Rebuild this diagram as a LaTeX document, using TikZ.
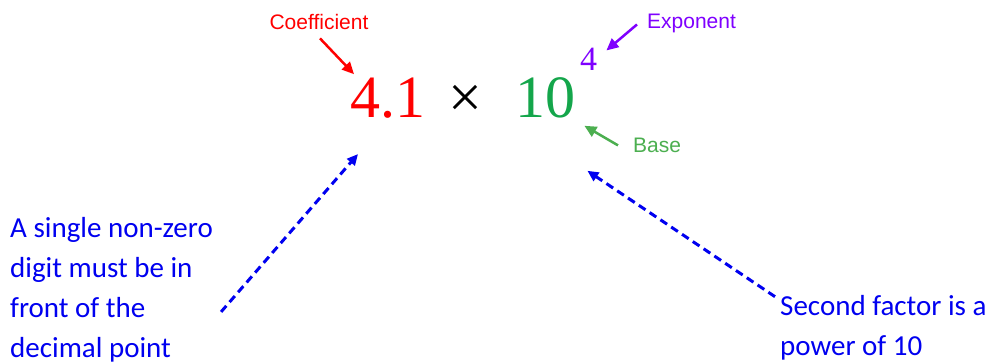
\documentclass[tikz,border=0pt]{standalone}
\usepackage{fontspec}
\setmainfont{Liberation Serif}
\newfontfamily\lblfont{Liberation Sans}
\newfontfamily\notefont{Carlito}
\usetikzlibrary{arrows.meta}
\definecolor{coefred}{HTML}{FF0000}
\definecolor{basegreen}{HTML}{14A64B}
\definecolor{lblgreen}{HTML}{4CAF50}
\definecolor{exppurple}{HTML}{7F00FF}
\definecolor{noteblue}{HTML}{0000F0}
\begin{document}
\begin{tikzpicture}[x=1pt, y=-1pt, >={Triangle[length=12pt,width=11pt]}]
      \tikzset{num/.style={inner sep=0, font=\fontsize{60}{60}\selectfont},
               lbl/.style={inner sep=0, font=\lblfont\fontsize{21}{21}\selectfont},
               note/.style={inner sep=0, align=left, text=noteblue, font=\notefont\fontsize{29}{40}\selectfont},
               pointer/.style={->, line width=2.5pt},
               hint/.style={->, noteblue, line width=3pt, dash pattern=on 8pt off 5pt, >={Triangle[length=11pt,width=10pt]}}}
      \fill[white] (0,0) rectangle (987,362);
      \useasboundingbox (0,0) rectangle (987,362);
      % the number
      \node[num, text=coefred, anchor=base west] (coef) at (350,117) {4.1};
      \node[num, anchor=base] (times) at (465,117) {×};
      \node[num, text=basegreen, anchor=base west] (ten) at (515,117) {10};
      \node[num, text=exppurple, anchor=base west, font=\fontsize{34}{34}\selectfont] (expo) at (580,70) {4};
      % labels
      \node[lbl, text=coefred, anchor=base] (coeflbl) at (319,29) {Coefficient};
      \node[lbl, text=exppurple, anchor=base west] (expolbl) at (647,28) {Exponent};
      \node[lbl, text=lblgreen, anchor=base west] (baselbl) at (633,152) {Base};
      \draw[pointer, coefred] ([shift={(1,9)}]coeflbl.south) -- ([shift={(4,-3)}]coef.north west);
      \draw[pointer, exppurple] ([shift={(-10,1.5)}]expolbl.west) -- ([shift={(9,3)}]expo.north east);
      \draw[pointer, lblgreen] ([shift={(-15,0.5)}]baselbl.west) -- ([shift={(9,8)}]ten.south east);
      % notes
      \node[note, anchor=base west] (leftnote) at (10,357) {A single non-zero\\digit must be in\\front of the\\decimal point};
      \node[note, anchor=base west] (rightnote) at (780,355) {Second factor is a\\power of 10};
      \draw[hint] ([shift={(8,-50)}]leftnote.south east) -- ([shift={(8,36)}]coef.south west);
      \draw[hint] ([shift={(-5,2)}]rightnote.north west) -- ([shift={(12,53)}]ten.south east);
\end{tikzpicture}
\end{document}
